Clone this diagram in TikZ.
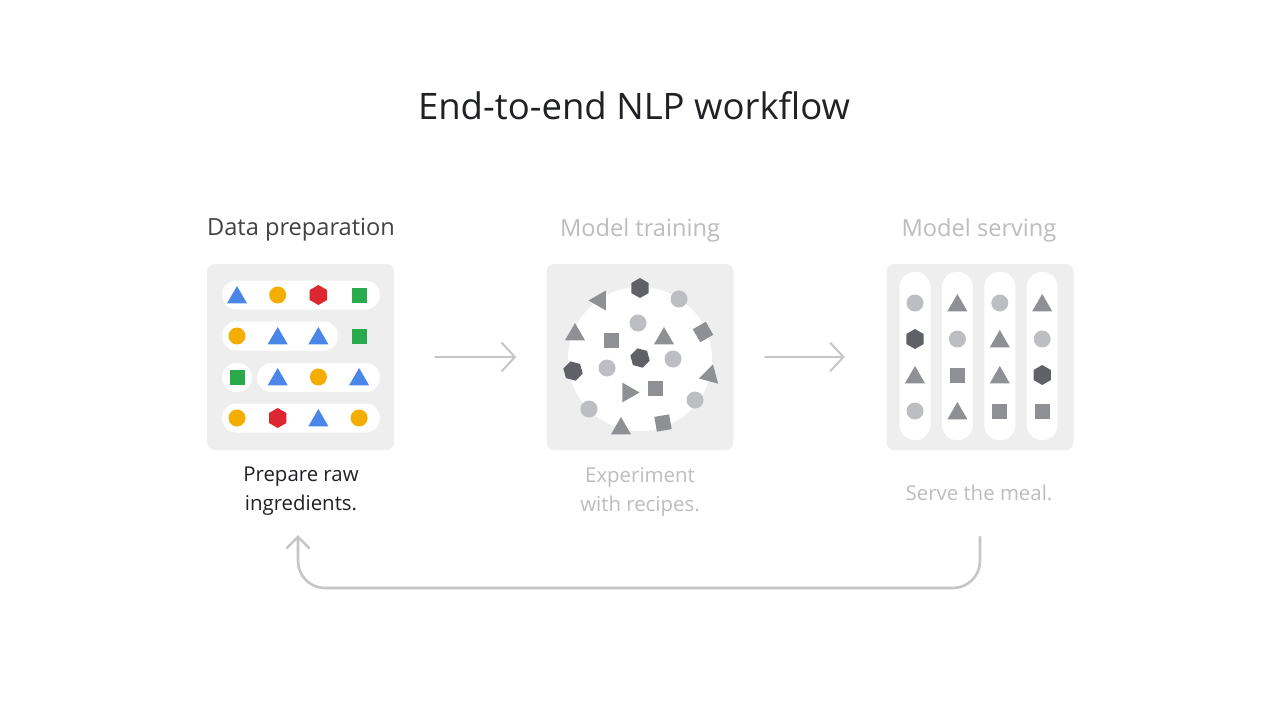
\documentclass[tikz,border=0pt]{standalone}
\usepackage{fontspec}
\setmainfont{Open Sans}
\usetikzlibrary{arrows.meta,shapes.geometric,positioning,calc}
\definecolor{gblue}{HTML}{4A86E8}
\definecolor{gyellow}{HTML}{F4AE00}
\definecolor{gred}{HTML}{DC2630}
\definecolor{ggreen}{HTML}{2AAA4A}
\definecolor{panelgray}{HTML}{EEEEEF}
\definecolor{darkshape}{HTML}{5F6166}
\definecolor{midshape}{HTML}{8E9094}
\definecolor{lightshape}{HTML}{BDBEC1}
\definecolor{inkdark}{HTML}{202124}
\definecolor{inklight}{HTML}{BDBDBD}
\definecolor{flowgray}{HTML}{C6C6C6}
\tikzset{
  panel/.style={fill=panelgray,rounded corners=8pt,minimum width=187pt,minimum height=186pt,inner sep=0pt},
  pill/.style={fill=white,rounded corners=14.5pt},
  tri/.style={regular polygon,regular polygon sides=3,minimum size=23pt,inner sep=0pt},
  hex/.style={regular polygon,regular polygon sides=6,minimum size=20pt,inner sep=0pt},
  sq/.style={rectangle,minimum size=15pt,inner sep=0pt},
  dot/.style={circle,minimum size=17pt,inner sep=0pt},
  % coloured ingredients
  btri/.style={tri,fill=gblue,yshift=-2.5pt},
  ydot/.style={dot,fill=gyellow},
  rhex/.style={hex,fill=gred,rotate=30},
  gsq/.style={sq,fill=ggreen},
  % grey ingredients
  gtri/.style={tri,fill=midshape,yshift=-2.5pt},
  gdot/.style={dot,fill=lightshape},
  ghex/.style={hex,fill=darkshape,rotate=30},
  gbox/.style={sq,fill=midshape},
  title/.style={font=\fontsize{36.5}{42}\selectfont,text=inkdark},
  head/.style={font=\fontsize{23.6}{28}\selectfont},
  caption/.style={font=\fontsize{20.4}{29}\selectfont,align=center},
  flow/.style={draw=flowgray,line width=2pt,line cap=round,-{Straight Barb[length=13pt,width=28pt,line cap=round]}},
  back/.style={draw=flowgray,line width=2.6pt,line cap=round,rounded corners=27pt,-{Straight Barb[length=11pt,width=22pt,line cap=round]}}
}
\begin{document}
\begin{tikzpicture}[x=1pt,y=-1pt]
\fill[white] (0,0) rectangle (1280,720); % page
\useasboundingbox (0,0) rectangle (1280,720);

\node[title] (title) at (634,106) {End-to-end NLP workflow};

%%% HEADERS %%%
\node[head,text=inkdark!85] (prephead) at (301,230) {Data preparation};
\node[head,text=inklight] (trainhead) at (640,230) {Model training};
\node[head,text=inklight] (servehead) at (979,230) {Model serving};

%%% PANELS %%%
\node[panel] (prep) at (300.5,357) {};
\node[panel] (train) at (640,357) {};
\node[panel] (serve) at (980,357) {};

%%% CAPTIONS %%%
\node[caption,text=inkdark] (preptext) at (301,491.5) {Prepare raw\\ingredients.};
\node[caption,text=inklight] (traintext) at (640,491.5) {Experiment\\with recipes.};
\node[caption,text=inklight] (servetext) at (979,492.5) {Serve the meal.};

%%% DATA PREPARATION %%%
\fill[pill] (222,280.5) rectangle (380,309.5); % row 1
\fill[pill] (222,321.5) rectangle (338,350.5); % row 2
\fill[pill] (222,363) rectangle (252,392); % row 3 left
\fill[pill] (257,363) rectangle (380,392); % row 3 right
\fill[pill] (222,403.5) rectangle (380,432.5); % row 4
\foreach \row [count=\r] in {{btri,ydot,rhex,gsq},{ydot,btri,btri,gsq},{gsq,btri,ydot,btri},{ydot,rhex,btri,ydot}}
  \foreach \shp [count=\c] in \row
    \node[\shp] (prep-\r-\c) at ({237+40.7*(\c-1)},{295+41*(\r-1)}) {};

%%% MODEL TRAINING %%%
\fill[white] (640,359) circle [radius=72]; % mixing bowl
\foreach \x/\y/\shp/\ang [count=\i] in {640/288/ghex/0,600/298/gtri/90,679/299/gdot/0,575/332/gtri/0,638/323/gdot/0,
    611/340/gbox/0,664/336/gtri/0,703/332/gbox/30,640/358/ghex/15,673/359/gdot/0,573/371/ghex/15,607/368/gdot/0,
    710/373/gtri/-15,628/390/gtri/-90,655/388/gbox/0,589/409/gdot/0,695/400/gdot/0,621/426/gtri/0,663/423/gbox/10}
  \node[\shp,rotate=\ang] (train-\i) at (\x,\y) {};

%%% MODEL SERVING %%%
\foreach \i in {0,...,3}
  \fill[pill,rounded corners=15pt] ({899.5+42.4*\i},272) rectangle ({930.5+42.4*\i},440); % plates
\foreach \col [count=\c] in {{gdot,ghex,gtri,gdot},{gtri,gdot,gbox,gtri},{gdot,gtri,gtri,gbox},{gtri,gdot,ghex,gbox}}
  \foreach \shp [count=\r] in \col
    \node[\shp] (serve-\c-\r) at ({915+42.4*(\c-1)},{303+36*(\r-1)}) {};

%%% ARROWS %%%
\draw[flow,shorten <=41pt,shorten >=30pt] (prep.east) -- (train.west);
\draw[flow,shorten <=31.5pt,shorten >=41.5pt] (train.east) -- (serve.west);

\coordinate (fb-start) at (980,537); % below serving caption
\coordinate (fb-end) at (298,535); % below preparation caption
\draw[back] (fb-start) -- (fb-start |- 0,588) -- (fb-end |- 0,588) -- (fb-end);
\end{tikzpicture}
\end{document}
